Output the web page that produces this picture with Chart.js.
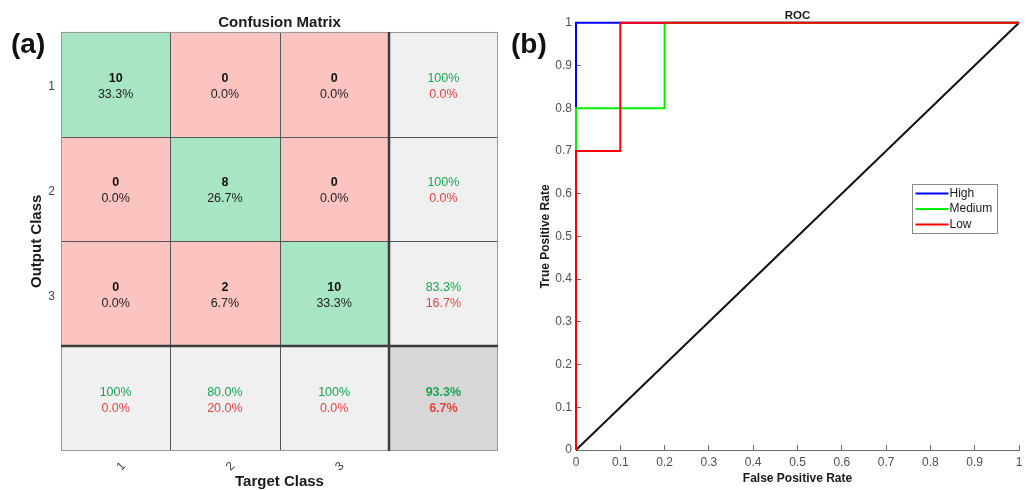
<!DOCTYPE html>
<html>
<head>
<meta charset="utf-8">
<title>Confusion Matrix and ROC</title>
<script src="https://cdn.jsdelivr.net/npm/chart.js@4.4.1/dist/chart.umd.min.js"></script>
<style>
    html, body { margin: 0; padding: 0; background: #fff; }
    #wrap { position: relative; width: 1030px; height: 490px; overflow: hidden; font-family: 'Liberation Sans', Arial, sans-serif; }
    .panel { position: absolute; top: 0; height: 490px; }
    #cmBox { left: 0; width: 510px; }
    #rocBox { left: 510px; width: 520px; }
    .tag { position: absolute; font-weight: bold; font-size: 28px; line-height: 1; color: #111; }
</style>
</head>
<body>
<div id="wrap">
    <div class="panel" id="cmBox"><canvas id="cmChart"></canvas></div>
    <div class="panel" id="rocBox"><canvas id="rocChart"></canvas></div>
    <div class="tag" style="left:11px; top:30px;">(a)</div>
    <div class="tag" style="left:511px; top:30px;">(b)</div>
</div>
<script>
// ===== DATA =====
const targetClasses = ['1', '2', '3'];
const outputClasses = ['1', '2', '3'];
// rows = output class, columns = target class
const countsOut1 = [10, 0, 0];
const countsOut2 = [0, 8, 0];
const countsOut3 = [0, 2, 10];
const confusionCounts = [countsOut1, countsOut2, countsOut3];

// ROC curves (false positive rate / true positive rate)
const rocLabels = ['High', 'Medium', 'Low'];
const fprHigh = [0, 0, 1];
const tprHigh = [0, 1, 1];
const fprMedium = [0, 0, 0.2, 0.2, 1];
const tprMedium = [0, 0.8, 0.8, 1, 1];
const fprLow = [0, 0, 0.1, 0.1, 1];
const tprLow = [0, 0.7, 0.7, 1, 1];
const fprChance = [0, 1];
const tprChance = [0, 1];

// ===== STYLE =====
const FONT = "'Liberation Sans', Arial, sans-serif";
const CELL_GREEN = '#a7e5c5';
const CELL_RED = '#fcc4c1';
const CELL_GRAY = '#f0f0f0';
const CELL_TOTAL = '#d7d7d7';
const TXT_GREEN = '#16a650';
const TXT_RED = '#e8443f';

Chart.defaults.font.family = FONT;
Chart.defaults.animation = false;

// ===== CONFUSION MATRIX (floating bars as cells) =====
const nCls = targetClasses.length;
const xLabels = [...targetClasses, ''];
const cmDatasets = [];
for (let r = 0; r <= nCls; r++) {
    const data = [];
    const colors = [];
    for (let c = 0; c <= nCls; c++) {
        data.push([r, r + 1]);
        if (r === nCls && c === nCls) colors.push(CELL_TOTAL);
        else if (r === nCls || c === nCls) colors.push(CELL_GRAY);
        else colors.push(r === c ? CELL_GREEN : CELL_RED);
    }
    cmDatasets.push({
        label: 'row ' + (r + 1),
        data: data,
        backgroundColor: colors,
        borderWidth: 0,
        barPercentage: 1,
        categoryPercentage: 1,
        grouped: false
    });
}

function pct(v) {
    return (Math.abs(v - 100) < 1e-9 ? '100' : v.toFixed(1)) + '%';
}

const cmCellPlugin = {
    id: 'cmCells',
    afterDatasetsDraw(chart) {
        const { ctx, scales: { x, y } } = chart;
        const xs = [], ys = [];
        for (let i = 0; i <= nCls + 1; i++) xs.push(Math.round(x.getPixelForValue(i - 0.5)));
        for (let j = 0; j <= nCls + 1; j++) ys.push(Math.round(y.getPixelForValue(j)));

        ctx.save();
        // thin inner lines
        ctx.strokeStyle = '#555';
        ctx.lineWidth = 1;
        ctx.beginPath();
        for (let i = 1; i < nCls; i++) {
            ctx.moveTo(xs[i] + 0.5, ys[0]); ctx.lineTo(xs[i] + 0.5, ys[nCls + 1]);
            ctx.moveTo(xs[0], ys[i] + 0.5); ctx.lineTo(xs[nCls + 1], ys[i] + 0.5);
        }
        ctx.stroke();
        // outer border
        ctx.strokeStyle = '#999';
        ctx.strokeRect(xs[0] + 0.5, ys[0] + 0.5, xs[nCls + 1] - xs[0] - 1, ys[nCls + 1] - ys[0] - 1);
        // thick separators for the summary row / column
        ctx.strokeStyle = '#3d3d3d';
        ctx.lineWidth = 2.5;
        ctx.beginPath();
        ctx.moveTo(xs[nCls], ys[0]); ctx.lineTo(xs[nCls], ys[nCls + 1]);
        ctx.moveTo(xs[0], ys[nCls]); ctx.lineTo(xs[nCls + 1], ys[nCls]);
        ctx.stroke();

        // texts
        let total = 0, correct = 0;
        confusionCounts.forEach((row, r) => row.forEach((v, c) => { total += v; if (r === c) correct += v; }));
        ctx.textAlign = 'center';
        ctx.textBaseline = 'middle';
        const up = -6, down = 10;
        for (let r = 0; r <= nCls; r++) {
            for (let c = 0; c <= nCls; c++) {
                const cx = x.getPixelForValue(c);
                const cy = y.getPixelForValue(r + 0.5);
                let line1, line2, c1, c2, bold1 = false, bold2 = false;
                if (r < nCls && c < nCls) {
                    const v = confusionCounts[r][c];
                    line1 = String(v); line2 = pct(v / total * 100);
                    c1 = '#111'; c2 = '#222'; bold1 = true;
                } else if (r < nCls) {
                    const rowSum = confusionCounts[r].reduce((a, b) => a + b, 0);
                    const ok = confusionCounts[r][r] / rowSum * 100;
                    line1 = pct(ok); line2 = pct(100 - ok);
                    c1 = TXT_GREEN; c2 = TXT_RED;
                } else if (c < nCls) {
                    const colSum = confusionCounts.reduce((a, row) => a + row[c], 0);
                    const ok = confusionCounts[c][c] / colSum * 100;
                    line1 = pct(ok); line2 = pct(100 - ok);
                    c1 = TXT_GREEN; c2 = TXT_RED;
                } else {
                    const ok = correct / total * 100;
                    line1 = pct(ok); line2 = pct(100 - ok);
                    c1 = TXT_GREEN; c2 = TXT_RED; bold1 = bold2 = true;
                }
                ctx.font = (bold1 ? 'bold ' : '') + '12.5px ' + FONT;
                ctx.fillStyle = c1;
                ctx.fillText(line1, cx, cy + up);
                ctx.font = (bold2 ? 'bold ' : '') + '12.5px ' + FONT;
                ctx.fillStyle = c2;
                ctx.fillText(line2, cx, cy + down);
            }
        }
        ctx.restore();
    }
};

new Chart(document.getElementById('cmChart'), {
    type: 'bar',
    data: { labels: xLabels, datasets: cmDatasets },
    options: {
        responsive: true,
        maintainAspectRatio: false,
        layout: { padding: { left: 25, right: 12, top: 0, bottom: 0 } },
        plugins: {
            legend: { display: false },
            tooltip: { enabled: false },
            title: {
                display: true,
                fullSize: false,
                text: 'Confusion Matrix',
                color: '#1a1a1a',
                font: { size: 15, weight: 'bold' },
                padding: { top: 13.5, bottom: 0.2 }
            }
        },
        scales: {
            x: {
                grid: { display: false, drawTicks: false },
                border: { display: false },
                ticks: { color: '#444', font: { size: 12 }, minRotation: 45, maxRotation: 45, padding: 8, labelOffset: 8 },
                title: {
                    display: true,
                    text: 'Target Class',
                    color: '#1a1a1a',
                    font: { size: 15, weight: 'bold', lineHeight: 1.1 },
                    padding: { top: 0, bottom: 0 }
                },
                afterFit: (axis) => { axis.height = 39; }
            },
            y: {
                min: 0,
                max: nCls + 1,
                reverse: true,
                grid: { display: false, drawTicks: false },
                border: { display: false },
                afterBuildTicks: (axis) => {
                    axis.ticks = outputClasses.map((_, i) => ({ value: i + 0.5 }));
                },
                ticks: {
                    color: '#444',
                    font: { size: 12 },
                    padding: 6,
                    labelOffset: 2.5,
                    callback: (value, index) => outputClasses[index] ?? ''
                },
                title: {
                    display: true,
                    text: 'Output Class',
                    color: '#1a1a1a',
                    font: { size: 15, weight: 'bold', lineHeight: 1.1 },
                    padding: { top: 4, bottom: 4 }
                },
                afterFit: (axis) => { axis.width = 36; }
            }
        }
    },
    plugins: [cmCellPlugin]
});

// ===== ROC CURVES =====
function toPoints(xs, ys) {
    return xs.map((v, i) => ({ x: v, y: ys[i] }));
}

const rocDatasets = [
    { label: 'High', data: toPoints(fprHigh, tprHigh), borderColor: '#0000ff', order: 3 },
    { label: 'Medium', data: toPoints(fprMedium, tprMedium), borderColor: '#00f000', order: 2 },
    { label: 'Low', data: toPoints(fprLow, tprLow), borderColor: '#ff0000', order: 1 },
    { label: 'chance', data: toPoints(fprChance, tprChance), borderColor: '#111', order: 4 }
].map(ds => Object.assign(ds, {
    showLine: true,
    borderWidth: 2,
    pointRadius: 0,
    tension: 0,
    clip: 6
}));

const rocLegendPlugin = {
    id: 'rocLegend',
    afterDraw(chart) {
        const { ctx, chartArea } = chart;
        const bx = Math.round(chartArea.right - 107) + 0.5;
        const by = Math.round(chartArea.top + 161) + 0.5;
        const bw = 85, bh = 49;
        ctx.save();
        ctx.fillStyle = '#fff';
        ctx.fillRect(bx, by, bw, bh);
        ctx.strokeStyle = '#8a8a8a';
        ctx.lineWidth = 1;
        ctx.strokeRect(bx, by, bw, bh);
        ctx.font = '12px ' + FONT;
        ctx.textBaseline = 'middle';
        ctx.textAlign = 'left';
        rocLabels.forEach((name, i) => {
            const ds = chart.data.datasets.find(d => d.label === name);
            const ly = by + 9 + i * 15.5;
            ctx.strokeStyle = ds.borderColor;
            ctx.lineWidth = 2;
            ctx.beginPath();
            ctx.moveTo(bx + 3, ly);
            ctx.lineTo(bx + 36, ly);
            ctx.stroke();
            ctx.fillStyle = '#1a1a1a';
            ctx.fillText(name, bx + 37, ly);
        });
        ctx.restore();
    }
};

const fmtTick = (value) => String(Math.round(value * 10) / 10);

const axisCommon = {
    type: 'linear',
    min: 0,
    max: 1,
    grid: { drawOnChartArea: false, drawTicks: true, tickLength: -5, color: '#6b6b6b' },
    border: { color: '#6b6b6b', width: 1 }
};

new Chart(document.getElementById('rocChart'), {
    type: 'scatter',
    data: { datasets: rocDatasets },
    options: {
        responsive: true,
        maintainAspectRatio: false,
        layout: { padding: { left: 24, right: 11, top: 0, bottom: 0 } },
        plugins: {
            legend: { display: false },
            tooltip: { enabled: false },
            title: {
                display: true,
                fullSize: false,
                text: 'ROC',
                color: '#1a1a1a',
                font: { size: 11.5, weight: 'bold' },
                padding: { top: 9, bottom: 0 }
            }
        },
        scales: {
            x: Object.assign({}, axisCommon, {
                ticks: { stepSize: 0.1, color: '#505050', font: { size: 12 }, padding: 10, callback: fmtTick },
                title: {
                    display: true,
                    text: 'False Positive Rate',
                    color: '#1a1a1a',
                    font: { size: 12, weight: 'bold' },
                    padding: { top: 4, bottom: 4 }
                },
                afterFit: (axis) => {
                    axis.height = 40;
                    axis.paddingLeft = 0;
                    axis.paddingRight = 0;
                }
            }),
            y: Object.assign({}, axisCommon, {
                ticks: { stepSize: 0.1, color: '#505050', font: { size: 12 }, padding: 9, callback: fmtTick },
                title: {
                    display: true,
                    text: 'True Positive Rate',
                    color: '#1a1a1a',
                    font: { size: 12, weight: 'bold' },
                    padding: { top: 4, bottom: 4 }
                },
                afterFit: (axis) => { axis.width = 42; }
            })
        }
    },
    plugins: [rocLegendPlugin]
});
</script>
</body>
</html>
